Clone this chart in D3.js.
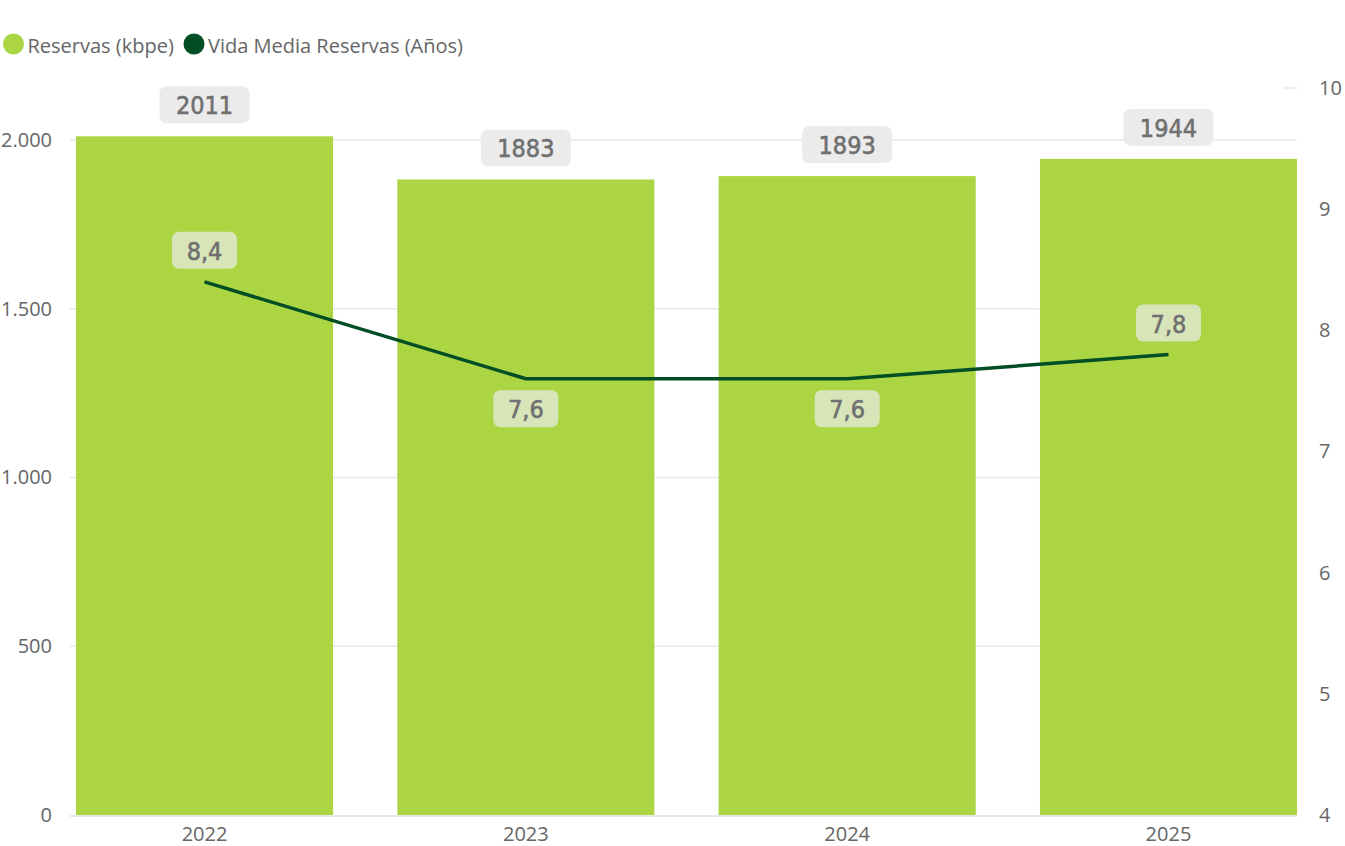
<!DOCTYPE html>
<html><head><meta charset="utf-8">
<script src="https://cdn.jsdelivr.net/npm/d3@7"></script>
<style>
body{margin:0;background:#fff;}
svg{display:block;font-family:"Open Sans","Noto Sans",sans-serif;}
</style></head>
<body><svg id="c" width="1345" height="846"></svg>
<script>
const categories = ["2022","2023","2024","2025"];
const reservas = [2011,1883,1893,1944];
const vidaMedia = [8.4,7.6,7.6,7.8];
const vidaLabels = ["8,4","7,6","7,6","7,8"];
const leftTicks = [0,500,1000,1500,2000];
const leftTickLabels = ["0","500","1.000","1.500","2.000"];
const rightTicks = [4,5,6,7,8,9,10];
const seriesNames = ["Reservas (kbpe)","Vida Media Reservas (Años)"];
const colors = ["#abd543","#014d24"];

(function(){
const svg = d3.select("#c");
const plotTop = 88, plotBottom = 815;
const x = d3.scaleBand().domain(categories).range([76,1297]).paddingInner(0.2).paddingOuter(0);
const yR = d3.scaleLinear().domain([4,10]).range([plotBottom, plotTop]);
const yL = d3.scaleLinear().domain([0, 2000*(plotBottom-plotTop)/(plotBottom-140)]).range([plotBottom, plotTop]);
const axisFont = "'Open Sans', sans-serif";

// gridlines
svg.append("g").selectAll("line").data(leftTicks.slice(1)).join("line")
  .attr("x1",70).attr("x2",1297).attr("y1",d=>yL(d)).attr("y2",d=>yL(d))
  .attr("stroke","#e8e8e8").attr("stroke-width",1.5);
svg.append("line").attr("x1",1284).attr("x2",1297).attr("y1",yR(10)).attr("y2",yR(10))
  .attr("stroke","#e8e8e8").attr("stroke-width",1.5);

// bars
svg.append("g").selectAll("rect").data(reservas).join("rect")
  .attr("x",(d,i)=>x(categories[i])).attr("width",x.bandwidth())
  .attr("y",d=>yL(d)).attr("height",d=>yL(0)-yL(d)).attr("fill",colors[0]);

// x axis line
svg.append("line").attr("x1",70).attr("x2",1297).attr("y1",plotBottom+1).attr("y2",plotBottom+1)
  .attr("stroke","#e8e8e8").attr("stroke-width",2);

// axes labels
const axisColor = "#666";
const gL = svg.append("g").attr("transform","translate(55,0)")
  .call(d3.axisLeft(yL).tickValues(leftTicks).tickFormat((d,i)=>leftTickLabels[i]).tickSize(0));
gL.select(".domain").remove();
gL.selectAll("text").attr("font-size",20).attr("fill",axisColor).attr("font-family",axisFont).attr("dx",0);

const gR = svg.append("g").attr("transform","translate(1316,0)")
  .call(d3.axisRight(yR).tickValues(rightTicks).tickFormat(d3.format("d")).tickSize(0));
gR.select(".domain").remove();
gR.selectAll("text").attr("font-size",20).attr("fill",axisColor).attr("font-family",axisFont).attr("dx",0);

const gX = svg.append("g").attr("transform",`translate(0,${plotBottom+7})`)
  .call(d3.axisBottom(x).tickSize(0));
gX.select(".domain").remove();
gX.selectAll("text").attr("font-size",20).attr("fill",axisColor).attr("font-family",axisFont).attr("dy","0.8em");

// line
const line = d3.line().x((d,i)=>x(categories[i])+x.bandwidth()/2).y(d=>yR(d));
svg.append("path").datum(vidaMedia).attr("d",line).attr("fill","none")
  .attr("stroke",colors[1]).attr("stroke-width",3.5);

// labels
const labelFont = "'DejaVu Sans Condensed','Roboto',sans-serif";
function label(cx, cy, text, w, fill){
  const g = svg.append("g");
  g.append("rect").attr("x",cx-w/2).attr("y",cy-18.5).attr("width",w).attr("height",37)
    .attr("rx",7).attr("fill",fill);
  g.append("text").attr("x",cx).attr("y",cy+1).attr("text-anchor","middle").attr("dominant-baseline","central")
    .attr("font-family",labelFont).attr("font-size",25).attr("fill","#707070")
    .attr("stroke","#707070").attr("stroke-width",0.6).text(text);
}
reservas.forEach((d,i)=>{
  label(x(categories[i])+x.bandwidth()/2, yL(d)-31.5, String(d), 90, "#ebebeb");
});
const above = [true,false,false,true];
vidaMedia.forEach((d,i)=>{
  const cy = above[i] ? yR(d)-31.5 : yR(d)+30;
  label(x(categories[i])+x.bandwidth()/2, cy, vidaLabels[i], 65, "rgba(235,235,235,0.7)");
});

// legend
const leg = svg.append("g");
const legX = [13.5,194];
seriesNames.forEach((n,i)=>{
  leg.append("circle").attr("cx",legX[i]).attr("cy",44).attr("r",10.5).attr("fill",colors[i]);
  leg.append("text").attr("x",legX[i]+14).attr("y",45).attr("dominant-baseline","central")
    .attr("font-size",20).attr("fill","#666").attr("font-family",axisFont).text(n);
});
})();
</script></body></html>
